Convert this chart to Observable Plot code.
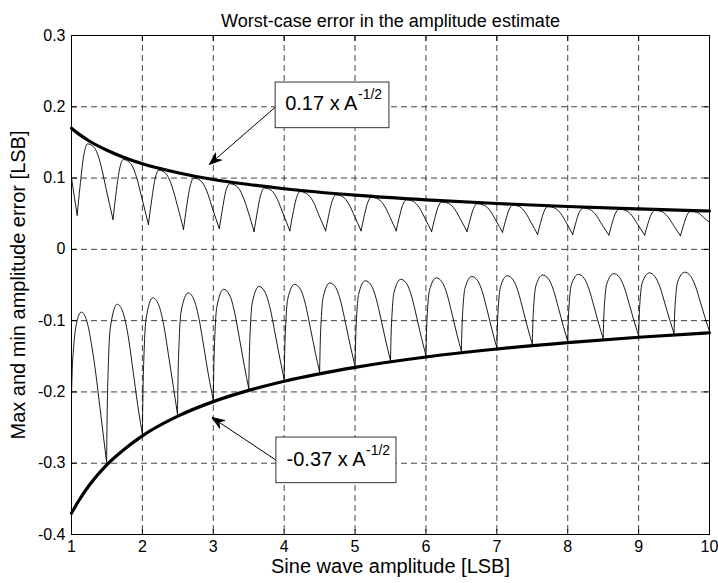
<!DOCTYPE html>
<html>
<head>
<meta charset="utf-8">
<script src="https://cdn.jsdelivr.net/npm/d3@7"></script>
<script src="https://cdn.jsdelivr.net/npm/@observablehq/plot@0.6"></script>
<style>
  html, body { margin: 0; padding: 0; background: white; }
</style>
</head>
<body>
<div id="chart"></div>
<script>
// ---------- DATA ----------
const titleText = "Worst-case error in the amplitude estimate";
const xLabelText = "Sine wave amplitude [LSB]";
const yLabelText = "Max and min amplitude error [LSB]";

const xTicks = [1, 2, 3, 4, 5, 6, 7, 8, 9, 10];
const xTickLabels = ["1", "2", "3", "4", "5", "6", "7", "8", "9", "10"];
const yTicks = [-0.4, -0.3, -0.2, -0.1, 0, 0.1, 0.2, 0.3];
const yTickLabels = ["-0.4", "-0.3", "-0.2", "-0.1", "0", "0.1", "0.2", "0.3"];

// thick envelope curves
const envA = [1, 1.1, 1.25, 1.5, 1.75, 2, 2.5, 3, 3.5, 4, 5, 6, 7, 8, 9, 10];
const upperEnv = [0.170, 0.162, 0.152, 0.139, 0.1285, 0.120, 0.1075, 0.098, 0.091, 0.085, 0.076, 0.0694, 0.0643, 0.0601, 0.0567, 0.0538];
const lowerEnv = [-0.370, -0.353, -0.331, -0.302, -0.280, -0.2616, -0.234, -0.2136, -0.1978, -0.185, -0.1655, -0.151, -0.1398, -0.1308, -0.1233, -0.117];

// thin max-error curve, one list of [A, error] per arch between cusps
const upperArches = [
  [[1.00,0.100],[1.04,0.074],[1.08,0.048]],
  [[1.08,0.048],[1.12,0.088],[1.17,0.130],[1.225,0.148],[1.32,0.143],[1.41,0.120],[1.49,0.084],[1.585,0.042]],
  [[1.585,0.042],[1.625,0.076],[1.675,0.111],[1.73,0.126],[1.825,0.1215],[1.915,0.102],[1.995,0.071],[2.085,0.035]],
  [[2.085,0.035],[2.125,0.065],[2.175,0.097],[2.23,0.111],[2.325,0.107],[2.415,0.089],[2.495,0.061],[2.58,0.028]],
  [[2.58,0.028],[2.62,0.057],[2.67,0.087],[2.725,0.100],[2.82,0.0965],[2.91,0.0815],[2.99,0.057],[3.085,0.029]],
  [[3.085,0.029],[3.125,0.054],[3.175,0.081],[3.23,0.092],[3.325,0.089],[3.415,0.075],[3.495,0.052],[3.575,0.025]],
  [[3.575,0.025],[3.615,0.049],[3.665,0.075],[3.72,0.086],[3.815,0.083],[3.905,0.070],[3.985,0.050],[4.08,0.026]],
  [[4.08,0.026],[4.12,0.048],[4.17,0.071],[4.225,0.081],[4.32,0.078],[4.41,0.067],[4.49,0.048],[4.585,0.026]],
  [[4.585,0.026],[4.625,0.046],[4.675,0.067],[4.73,0.0765],[4.825,0.074],[4.915,0.063],[4.995,0.046],[5.085,0.026]],
  [[5.085,0.026],[5.125,0.045],[5.175,0.0645],[5.23,0.073],[5.325,0.0707],[5.415,0.0608],[5.495,0.0448],[5.58,0.026]],
  [[5.58,0.026],[5.62,0.0434],[5.67,0.0617],[5.725,0.0695],[5.82,0.0673],[5.91,0.0579],[5.99,0.0428],[6.08,0.025]],
  [[6.08,0.025],[6.12,0.0416],[6.17,0.059],[6.225,0.0665],[6.32,0.0644],[6.41,0.0557],[6.49,0.0416],[6.58,0.025]],
  [[6.58,0.025],[6.62,0.0406],[6.67,0.057],[6.725,0.064],[6.82,0.062],[6.91,0.0536],[6.99,0.040],[7.08,0.024]],
  [[7.08,0.024],[7.12,0.0392],[7.17,0.0552],[7.225,0.062],[7.32,0.060],[7.405,0.0513],[7.485,0.0374],[7.575,0.021]],
  [[7.575,0.021],[7.615,0.0366],[7.665,0.053],[7.72,0.060],[7.815,0.058],[7.905,0.0499],[7.985,0.0366],[8.07,0.021]],
  [[8.07,0.021],[8.11,0.0358],[8.16,0.0513],[8.225,0.058],[8.31,0.0561],[8.40,0.0481],[8.48,0.0352],[8.58,0.020]],
  [[8.58,0.020],[8.62,0.0345],[8.67,0.0498],[8.725,0.0563],[8.82,0.0545],[8.91,0.0469],[8.99,0.0345],[9.085,0.020]],
  [[9.085,0.020],[9.125,0.0339],[9.175,0.0485],[9.23,0.0548],[9.325,0.053],[9.415,0.0455],[9.495,0.0333],[9.59,0.019]],
  [[9.59,0.019],[9.63,0.0328],[9.68,0.0473],[9.735,0.0535],[9.83,0.0518],[9.92,0.0445],[10.0,0.038]]
];

// thin min-error curve, one list of [A, error] per arch between cusps
const lowerArches = [
  [[1.00,-0.205],[1.01,-0.17],[1.03,-0.138],[1.07,-0.104],[1.14,-0.088],[1.22,-0.102],[1.28,-0.132],[1.34,-0.172],[1.40,-0.221],[1.45,-0.262],[1.495,-0.298]],
  [[1.495,-0.298],[1.503,-0.232],[1.52,-0.161],[1.545,-0.112],[1.645,-0.077],[1.725,-0.088],[1.795,-0.119],[1.865,-0.168],[1.935,-0.219],[2.0,-0.259]],
  [[2.0,-0.259],[2.008,-0.202],[2.025,-0.141],[2.05,-0.099],[2.145,-0.068],[2.23,-0.078],[2.30,-0.1055],[2.37,-0.1495],[2.44,-0.195],[2.495,-0.231]],
  [[2.495,-0.231],[2.503,-0.180],[2.52,-0.1256],[2.545,-0.088],[2.645,-0.061],[2.725,-0.070],[2.795,-0.0955],[2.865,-0.136],[2.935,-0.178],[3.0,-0.211]],
  [[3.0,-0.211],[3.008,-0.1645],[3.025,-0.115],[3.05,-0.081],[3.145,-0.056],[3.23,-0.064],[3.30,-0.088],[3.37,-0.1255],[3.44,-0.1644],[3.5,-0.195]],
  [[3.5,-0.195],[3.508,-0.152],[3.525,-0.106],[3.55,-0.075],[3.645,-0.052],[3.73,-0.060],[3.80,-0.082],[3.87,-0.117],[3.94,-0.1534],[4.0,-0.182]],
  [[4.0,-0.182],[4.008,-0.142],[4.025,-0.0995],[4.05,-0.070],[4.145,-0.049],[4.23,-0.056],[4.30,-0.077],[4.37,-0.1105],[4.44,-0.145],[4.5,-0.172]],
  [[4.5,-0.172],[4.508,-0.1345],[4.525,-0.0945],[4.55,-0.067],[4.645,-0.047],[4.73,-0.054],[4.80,-0.074],[4.87,-0.1055],[4.94,-0.1383],[5.0,-0.164]],
  [[5.0,-0.164],[5.008,-0.128],[5.025,-0.0896],[5.05,-0.0632],[5.145,-0.044],[5.23,-0.0507],[5.30,-0.0698],[5.37,-0.100],[5.44,-0.1314],[5.5,-0.156]],
  [[5.5,-0.156],[5.508,-0.1218],[5.525,-0.0853],[5.55,-0.0602],[5.645,-0.042],[5.73,-0.0484],[5.80,-0.0666],[5.87,-0.0955],[5.94,-0.1255],[6.0,-0.149]],
  [[6.0,-0.149],[6.008,-0.1163],[6.025,-0.0814],[6.05,-0.0574],[6.145,-0.040],[6.23,-0.0462],[6.30,-0.0637],[6.37,-0.0915],[6.44,-0.1203],[6.5,-0.143]],
  [[6.5,-0.143],[6.508,-0.1115],[6.525,-0.0779],[6.55,-0.0548],[6.645,-0.038],[6.73,-0.044],[6.80,-0.061],[6.87,-0.088],[6.94,-0.116],[7.0,-0.138]],
  [[7.0,-0.138],[7.008,-0.1077],[7.025,-0.0754],[7.05,-0.0532],[7.145,-0.037],[7.23,-0.0428],[7.30,-0.0591],[7.37,-0.085],[7.44,-0.1119],[7.5,-0.133]],
  [[7.5,-0.133],[7.508,-0.1039],[7.525,-0.0729],[7.55,-0.0515],[7.645,-0.036],[7.73,-0.0416],[7.80,-0.0574],[7.87,-0.0825],[7.94,-0.1085],[8.0,-0.129]],
  [[8.0,-0.129],[8.008,-0.1008],[8.025,-0.0707],[8.05,-0.050],[8.15,-0.035],[8.23,-0.0404],[8.30,-0.0557],[8.37,-0.080],[8.44,-0.1052],[8.5,-0.125]],
  [[8.5,-0.125],[8.508,-0.0977],[8.525,-0.0686],[8.55,-0.0486],[8.65,-0.034],[8.73,-0.0392],[8.80,-0.054],[8.87,-0.0775],[8.94,-0.1019],[9.0,-0.121]],
  [[9.0,-0.121],[9.008,-0.0946],[9.025,-0.0664],[9.05,-0.0471],[9.15,-0.033],[9.23,-0.0381],[9.30,-0.0525],[9.37,-0.0755],[9.44,-0.0993],[9.5,-0.118]],
  [[9.5,-0.118],[9.508,-0.0922],[9.525,-0.0647],[9.55,-0.0458],[9.65,-0.032],[9.73,-0.037],[9.80,-0.0511],[9.87,-0.0735],[9.94,-0.0967],[10.0,-0.115]]
];

// annotations
const annoMain = ["0.17 x A", "-0.37 x A"];
const annoSup = ["-1/2", "-1/2"];
const annoA = [5.034, 5.147];
const annoE = [0.2039, -0.2954];
const boxA1 = [3.88, 3.89];
const boxA2 = [5.485, 5.584];
const boxE1 = [0.170, -0.328];
const boxE2 = [0.234, -0.264];
const arrowFromA = [3.877, 3.89];
const arrowFromE = [0.1996, -0.296];
const arrowToA = [2.946, 2.984];
const arrowToE = [0.1192, -0.236];
const arrowAngle = [229, 303.6];

// ---------- TABLES built from the arrays ----------
const envRows = envA.map((A, i) => ({A, up: upperEnv[i], lo: lowerEnv[i]}));
const upperRows = upperArches.flatMap((arch, k) => arch.map(([A, e]) => ({A, e, k})));
const lowerRows = lowerArches.flatMap((arch, k) => arch.map(([A, e]) => ({A, e, k})));
const annoRows = annoMain.map((t, i) => ({
  t, sup: annoSup[i], A: annoA[i], E: annoE[i],
  bx1: boxA1[i], bx2: boxA2[i], by1: boxE1[i], by2: boxE2[i],
  fx: arrowFromA[i], fy: arrowFromE[i], tx: arrowToA[i], ty: arrowToE[i], rot: arrowAngle[i]
}));

const tickShape = {draw(ctx, l) { ctx.moveTo(0, 0); ctx.lineTo(0, -l); }};
const headShape = {draw(ctx, l) {
  ctx.moveTo(0, -l); ctx.lineTo(-4.5, 0); ctx.lineTo(0, -4); ctx.lineTo(4.5, 0); ctx.closePath();
}};

const font = "'Liberation Sans', Arial, Helvetica, sans-serif";

const chart = Plot.plot({
  width: 718,
  height: 583,
  marginLeft: 71,
  marginRight: 9,
  marginTop: 35,
  marginBottom: 49,
  x: {domain: [1, 10]},
  y: {domain: [-0.4, 0.3]},
  style: {fontFamily: font, fontSize: "16px", color: "black", background: "white", overflow: "visible"},
  marks: [
    Plot.gridX(xTicks, {stroke: "#222", strokeOpacity: 0.85, strokeWidth: 1, strokeDasharray: "6,4"}),
    Plot.gridY(yTicks, {stroke: "#222", strokeOpacity: 0.85, strokeWidth: 1, strokeDasharray: "6,4"}),
    Plot.line(upperRows, {x: "A", y: "e", z: "k", curve: "monotone-x", stroke: "black", strokeWidth: 0.9}),
    Plot.line(lowerRows, {x: "A", y: "e", z: "k", curve: "monotone-x", stroke: "black", strokeWidth: 0.9}),
    Plot.line(envRows, {x: "A", y: "up", curve: "monotone-x", stroke: "black", strokeWidth: 3.2}),
    Plot.line(envRows, {x: "A", y: "lo", curve: "monotone-x", stroke: "black", strokeWidth: 3.2}),
    Plot.frame({stroke: "black", strokeWidth: 1}),
    Plot.vector(xTicks, {x: d => d, frameAnchor: "bottom", rotate: 0, length: 5, anchor: "start", shape: tickShape, stroke: "black", strokeWidth: 1}),
    Plot.vector(xTicks, {x: d => d, frameAnchor: "top", rotate: 180, length: 5, anchor: "start", shape: tickShape, stroke: "black", strokeWidth: 1}),
    Plot.vector(yTicks, {y: d => d, frameAnchor: "left", rotate: 90, length: 5, anchor: "start", shape: tickShape, stroke: "black", strokeWidth: 1}),
    Plot.vector(yTicks, {y: d => d, frameAnchor: "right", rotate: 270, length: 5, anchor: "start", shape: tickShape, stroke: "black", strokeWidth: 1}),
    Plot.axisX(xTicks, {anchor: "bottom", tickSize: 0, tickPadding: 6, label: null, fontSize: 16,
      tickFormat: d => xTickLabels[xTicks.indexOf(d)]}),
    Plot.axisY(yTicks, {anchor: "left", tickSize: 0, tickPadding: 6, label: null, fontSize: 16,
      tickFormat: d => yTickLabels[yTicks.indexOf(d)]}),
    Plot.text([titleText], {text: d => d, frameAnchor: "top", textAnchor: "middle", dy: -21, fontSize: 18}),
    Plot.text([xLabelText], {text: d => d, frameAnchor: "bottom", textAnchor: "middle", dy: 38, fontSize: 20}),
    Plot.text([yLabelText], {text: d => d, frameAnchor: "left", textAnchor: "middle", rotate: -90, dx: -53, fontSize: 20}),
    // annotations
    Plot.link(annoRows, {x1: "fx", y1: "fy", x2: "tx", y2: "ty", stroke: "black", strokeWidth: 1}),
    Plot.vector(annoRows, {x: "tx", y: "ty", rotate: "rot", length: 12, anchor: "end", shape: headShape, fill: "black", stroke: "black", strokeWidth: 1}),
    Plot.rect(annoRows, {x1: "bx1", x2: "bx2", y1: "by1", y2: "by2", fill: "white", stroke: "#333", strokeWidth: 1}),
    Plot.text(annoRows, {x: "A", y: "E", text: "t", textAnchor: "end", fontSize: 20}),
    Plot.text(annoRows, {x: "A", y: "E", text: "sup", textAnchor: "start", dx: 0.5, dy: -9, fontSize: 14})
  ]
});

document.getElementById("chart").appendChild(chart);
</script>
</body>
</html>
